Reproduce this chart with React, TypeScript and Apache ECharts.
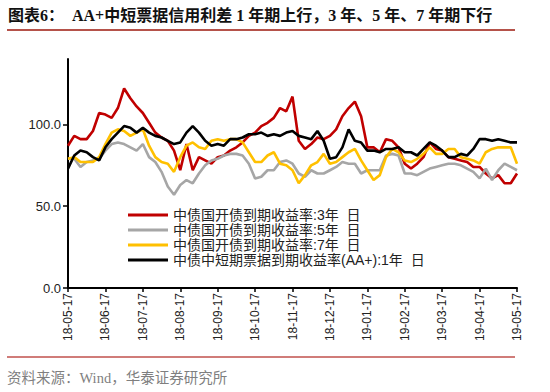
import React, { useEffect, useRef } from "react";
import * as echarts from "echarts";

const tickLabels = [
  "18-05-17", "18-06-17", "18-07-17", "18-08-17", "18-09-17", "18-10-17", "18-11-17",
  "18-12-17", "19-01-17", "19-02-17", "19-03-17", "19-04-17", "19-05-17",
];
const STEPS_PER_MONTH = 6;
const categories: string[] = [];
for (let m = 0; m < tickLabels.length; m++) {
  if (m === tickLabels.length - 1) { categories.push(tickLabels[m]); break; }
  for (let s = 0; s < STEPS_PER_MONTH; s++) categories.push(s === 0 ? tickLabels[m] : `${tickLabels[m]}+${s}`);
}

const seriesNames = [
  "中债国开债到期收益率:3年  日",
  "中债国开债到期收益率:5年  日",
  "中债国开债到期收益率:7年  日",
  "中债中短期票据到期收益率(AA+):1年  日",
];

const cdb3y = [
  87, 93, 91, 91, 96, 107, 106, 104, 110, 122, 116, 111, 107, 101, 95, 92, 90, 84, 72, 88,
  72, 80, 78, 76, 80, 81, 84, 86, 89, 93, 95, 99, 101, 104, 110, 108, 117, 90, 85, 88,
  92, 91, 93, 97, 105, 110, 114, 105, 86, 86, 83, 91, 90, 86, 76, 73, 76, 80, 89, 85,
  84, 80, 79, 78, 77, 74, 74, 70, 67, 69, 64, 64, 70,
];
const cdb5y = [
  79, 79, 74, 77, 78, 79, 84, 88, 89, 88, 86, 84, 88, 80, 77, 71, 62, 57, 63, 66,
  64, 70, 75, 78, 79, 81, 82, 82, 81, 76, 67, 68, 72, 72, 77, 78, 76, 70, 68, 72,
  70, 70, 72, 74, 77, 76, 76, 70, 72, 72, 72, 81, 82, 81, 70, 70, 69, 71, 73, 74,
  75, 76, 76, 75, 73, 71, 67, 73, 66, 72, 76, 74, 72,
];
const cdb7y = [
  79, 80, 77, 77, 77, 80, 88, 95, 97, 96, 93, 95, 97, 87, 80, 77, 76, 71, 80, 87,
  89, 86, 85, 90, 91, 90, 91, 91, 89, 83, 77, 77, 81, 83, 76, 75, 72, 64, 69, 75,
  77, 82, 76, 77, 80, 83, 85, 78, 72, 66, 69, 80, 85, 83, 78, 77, 79, 82, 86, 82,
  82, 85, 85, 80, 79, 78, 76, 83, 85, 86, 86, 86, 76,
];
const mtnAA1y = [
  73, 81, 84, 83, 80, 78, 86, 91, 95, 99, 98, 95, 98, 95, 93, 92, 90, 88, 89, 95,
  99, 95, 90, 87, 88, 87, 91, 91, 92, 94, 94, 95, 93, 94, 93, 95, 96, 93, 92, 91,
  96, 90, 79, 80, 86, 97, 90, 89, 84, 84, 83, 85, 85, 86, 83, 83, 81, 85, 89, 87,
  84, 80, 80, 82, 81, 85, 91, 91, 90, 91, 90, 89, 89,
];

const seriesData = [cdb3y, cdb5y, cdb7y, mtnAA1y];
const seriesColors = ["#c00000", "#a6a6a6", "#ffc000", "#000000"];
const yTicks = [0, 50, 100];

const latin = "Arial, 'Liberation Sans', 'Noto Sans CJK SC', sans-serif";

export default function App() {
  const ref = useRef<HTMLDivElement>(null);
  useEffect(() => {
    if (!ref.current) return;
    const chart = echarts.init(ref.current, null, { renderer: "svg" });
    chart.setOption({
      animation: false,
      backgroundColor: "#ffffff",
      grid: { left: 68, right: 33, top: 59, bottom: 104, containLabel: false },
      legend: {
        orient: "vertical",
        left: 123,
        top: 203,
        icon: "rect",
        itemWidth: 40,
        itemHeight: 3,
        itemGap: 1,
        textStyle: { fontSize: 14, color: "#222", fontFamily: latin },
        data: seriesNames,
      },
      xAxis: {
        type: "category",
        data: categories,
        boundaryGap: false,
        axisLine: { lineStyle: { color: "#000", width: 2 } },
        axisTick: {
          interval: (i: number) => i % STEPS_PER_MONTH === 0,
          length: 4,
          lineStyle: { color: "#000", width: 1.5 },
        },
        axisLabel: {
          interval: (i: number) => i % STEPS_PER_MONTH === 0,
          rotate: 90,
          margin: 5,
          fontSize: 12,
          color: "#222",
          fontFamily: latin,
        },
        splitLine: { show: false },
      },
      yAxis: {
        type: "value",
        min: 0,
        max: 140,
        interval: 50,
        axisLine: { show: true, lineStyle: { color: "#000", width: 2 } },
        axisTick: { show: true, length: 5, customValues: yTicks, lineStyle: { color: "#000", width: 1.5 } },
        axisLabel: {
          customValues: yTicks,
          formatter: (v: number) => (yTicks.includes(v) ? v.toFixed(1) : ""),
          fontSize: 13,
          color: "#222",
          margin: 7,
          fontFamily: latin,
        },
        splitLine: { show: false },
      },
      series: seriesNames.map((name, k) => ({
        name,
        type: "line",
        data: seriesData[k],
        symbol: "none",
        lineStyle: { color: seriesColors[k], width: 2.6 },
        itemStyle: { color: seriesColors[k] },
        z: 2 + k,
      })),
      graphic: [
        {
          type: "text",
          left: 8,
          top: 7,
          style: {
            text: "图表6：  AA+中短票据信用利差 1 年期上行，3 年、5 年、7 年期下行",
            fontSize: 16,
            fontWeight: "bold",
            fill: "#111",
            fontFamily: "'Liberation Serif', 'Noto Sans CJK SC', serif",
          },
        },
        {
          type: "line",
          shape: { x1: 7, y1: 30, x2: 515, y2: 30 },
          style: { stroke: "#b5524a", lineWidth: 2 },
        },
        {
          type: "line",
          shape: { x1: 7, y1: 357, x2: 515, y2: 357 },
          style: { stroke: "#c0504d", lineWidth: 1.5 },
        },
        {
          type: "text",
          left: 7,
          top: 371,
          style: {
            text: "资料来源：Wind，华泰证券研究所",
            fontSize: 14.5,
            fill: "#7f7f7f",
            fontFamily: "'Liberation Serif', 'Noto Sans CJK SC', serif",
          },
        },
      ],
    });
    return () => chart.dispose();
  }, []);
  return (
    <div
      ref={ref}
      style={{ position: "absolute", left: 0, top: 0, width: 550, height: 392 }}
    />
  );
}
